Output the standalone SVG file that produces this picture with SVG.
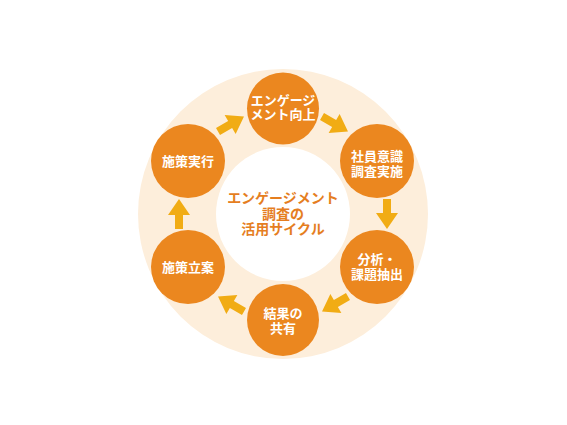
<svg xmlns="http://www.w3.org/2000/svg" width="567" height="425" viewBox="0 0 567 425">
  <style>
    .node { fill: #EB871F; }
    .nt { font-family: "Noto Sans CJK JP", "Noto Sans", sans-serif; font-weight: bold; font-size: 13px; fill: #FFFFFF; text-anchor: middle; }
    .ct { font-family: "Noto Sans CJK JP", "Noto Sans", sans-serif; font-weight: bold; font-size: 14px; fill: #E57E1F; text-anchor: middle; }
  </style>
  <defs>
    <path id="arr" d="M -15 -4 L -1 -4 L -1 -11 L 15 0 L -1 11 L -1 4 L -15 4 Z" fill="#F1AC14"/>
  </defs>
  <rect width="567" height="425" fill="#FFFFFF"/>
  <g id="ring">
    <circle cx="283" cy="214" r="145" fill="#FDEEDB"/>
    <circle cx="283" cy="214" r="67" fill="#FFFFFF"/>
  </g>
  <g id="center">
    <text class="ct" x="283" y="203">エンゲージメント</text>
    <text class="ct" x="283" y="218.5">調査の</text>
    <text class="ct" x="283" y="234">活用サイクル</text>
  </g>
  <g id="connectors">
    <use href="#arr" transform="translate(335,124) rotate(30)"/>
    <use href="#arr" transform="translate(387,214) rotate(90)"/>
    <use href="#arr" transform="translate(335,304) rotate(150)"/>
    <use href="#arr" transform="translate(231,304) rotate(210)"/>
    <use href="#arr" transform="translate(179,214) rotate(270)"/>
    <use href="#arr" transform="translate(231,124) rotate(-30)"/>
  </g>
  <g id="n1">
    <circle class="node" cx="283" cy="108.5" r="36"/>
    <text class="nt" x="283" y="104.5">エンゲージ</text>
    <text class="nt" x="283" y="119">メント向上</text>
  </g>
  <g id="n2">
    <circle class="node" cx="377" cy="161" r="37"/>
    <text class="nt" x="377" y="160.5">社員意識</text>
    <text class="nt" x="377" y="175.5">調査実施</text>
  </g>
  <g id="n3">
    <circle class="node" cx="377" cy="267" r="37"/>
    <text class="nt" x="377" y="264">分析・</text>
    <text class="nt" x="377" y="279">課題抽出</text>
  </g>
  <g id="n4">
    <circle class="node" cx="283" cy="320" r="36"/>
    <text class="nt" x="283" y="318">結果の</text>
    <text class="nt" x="283" y="333">共有</text>
  </g>
  <g id="n5">
    <circle class="node" cx="188" cy="267" r="37"/>
    <text class="nt" x="188" y="271.5">施策立案</text>
  </g>
  <g id="n6">
    <circle class="node" cx="188" cy="161" r="37"/>
    <text class="nt" x="188" y="166">施策実行</text>
  </g>
</svg>
